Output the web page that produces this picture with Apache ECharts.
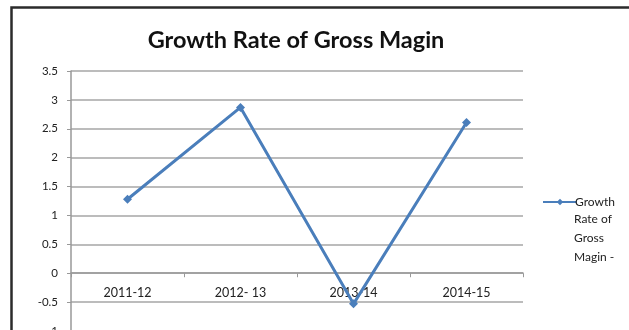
<!DOCTYPE html>
<html><head><meta charset="utf-8">
<script src="https://cdn.jsdelivr.net/npm/echarts@6/dist/echarts.min.js"></script>
<style>html,body{margin:0;padding:0;background:#fff;}#c{width:629px;height:330px;}</style>
</head><body><div id="c"></div>
<script>
const categories = ['2011-12', '2012- 13', '2013-14', '2014-15'];
const growthValues = [1.28, 2.87, -0.53, 2.61];
const seriesName = 'Growth Rate of Gross Magin -';
const titleText = 'Growth Rate of Gross Magin';

const FONT = 'Lato';
const chart = echarts.init(document.getElementById('c'), null, {renderer: 'canvas'});
chart.setOption({
  animation: false,
  backgroundColor: '#fff',
  title: {
    text: titleText, left: 291, top: 23, textAlign: 'center',
    textStyle: {fontFamily: FONT, fontWeight: 'bold', fontSize: 23.5, color: '#111'}
  },
  grid: {left: 71, right: 106, top: 71, height: 260, outerBoundsMode: 'none', containLabel: false},
  xAxis: {
    type: 'category', data: categories, boundaryGap: true,
    axisLine: {onZero: true, lineStyle: {color: '#999', width: 1.5}},
    axisTick: {show: true, length: 4, lineStyle: {color: '#999'}},
    axisLabel: {fontFamily: FONT, fontSize: 12.5, color: '#222', margin: -45}
  },
  yAxis: {
    type: 'value', min: -1, max: 3.5, interval: 0.5,
    axisLine: {show: true, lineStyle: {color: '#999', width: 1.5}},
    axisTick: {show: true, length: 4, lineStyle: {color: '#999'}},
    axisLabel: {fontFamily: FONT, fontSize: 11.5, color: '#222', margin: 13},
    splitLine: {lineStyle: {color: '#a6a6a6', width: 1.5}}
  },
  legend: {
    left: 537, top: 191, itemWidth: 34, itemHeight: 8, itemGap: 4,
    textStyle: {fontFamily: FONT, fontSize: 12, color: '#222', padding: [0,0,0,-7]},
    formatter: function () { return 'Growth'; },
    data: [seriesName]
  },
  graphic: [
    {type: 'rect', shape: {x: 11.5, y: 7.5, width: 700, height: 400}, style: {fill: 'none', stroke: '#2b2b2b', lineWidth: 2.5}, silent: true},
    {type: 'text', left: 574, top: 210, style: {text: 'Rate of\nGross\nMagin -', font: '12px Lato', fill: '#222', lineHeight: 19}}
  ],
  series: [{
    name: seriesName, type: 'line', data: growthValues,
    symbol: 'diamond', symbolSize: 9,
    lineStyle: {color: '#4a7ebb', width: 3},
    itemStyle: {color: '#4a7ebb'}
  }]
});
</script></body></html>
